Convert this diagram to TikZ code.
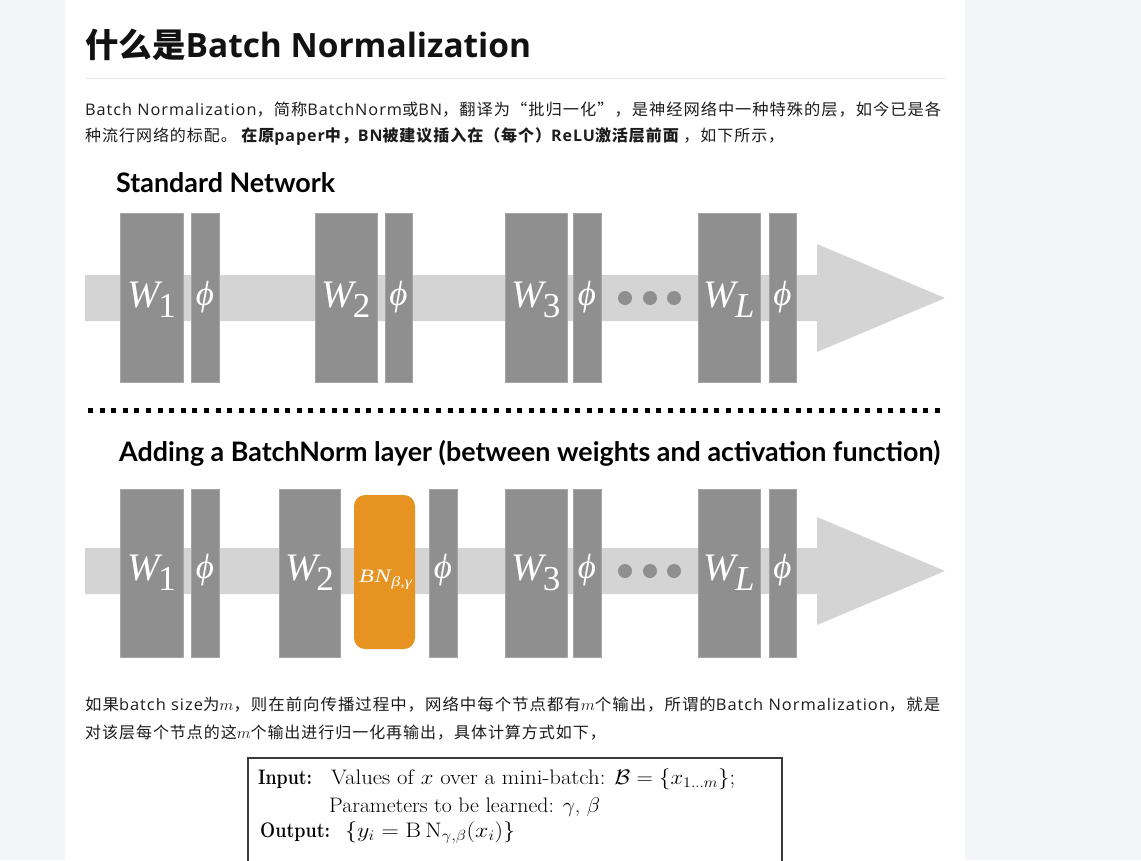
\documentclass[tikz,border=0pt]{standalone}
\usepackage{fix-cm}
\usepackage{fontspec}
\usepackage{graphicx}
\newfontfamily\cjk{Noto Sans CJK SC}[LetterSpace=6]
\newfontfamily\os{Open Sans}[LetterSpace=6]
\newfontfamily\cjkt{Noto Sans CJK SC}
\newfontfamily\ost{Open Sans}
\newfontfamily\lato{Lato}
\newfontfamily\tnr{Liberation Serif}
\newcommand\ltn[1]{{\os #1}}
\newcommand\bodyf{\cjk\fontsize{16}{16}\selectfont}
\newcommand\wlab[1]{{\tnr\itshape\fontsize{39}{39}\selectfont W}\kern-1pt\raisebox{-10pt}{\tnr\fontsize{35}{35}\selectfont #1}}
\newcommand\philab{{\tnr\itshape\fontsize{35}{35}\selectfont ϕ}}
\newcommand\bnlab{\resizebox{53pt}{\height}{{\tnr\itshape\fontsize{19}{19}\selectfont B\kern0.5pt N}\kern0.5pt\raisebox{-4.5pt}{\tnr\itshape\fontsize{14}{14}\selectfont β,γ}}}
\definecolor{pagebg}{HTML}{F4F5F9}
\definecolor{boxgray}{HTML}{8F8F8F}
\definecolor{boxedge}{HTML}{A4A4A4}
\definecolor{bandc}{HTML}{D4D4D4}
\definecolor{orangec}{HTML}{E69322}
\definecolor{textc}{HTML}{1C1C1C}
\definecolor{rulec}{HTML}{E6E7EB}
\definecolor{formc}{HTML}{3A3A3A}
\begin{document}
\begin{tikzpicture}[x=1pt,y=-1pt,
  box/.style={draw=boxedge, fill=boxgray, line width=0.8pt, inner sep=0pt},
  lab/.style={text=white, inner sep=0pt, anchor=base},
  txt/.style={anchor=base west, inner sep=0pt, text=textc},
  ftxt/.style={txt, text=black, font=\fontsize{21}{21}\selectfont},
  dotc/.style={circle, fill=boxgray, inner sep=0pt, minimum size=14pt}
]
\useasboundingbox (0,0) rectangle (1141,860);
\fill[pagebg] (0,0) rectangle (1141,860);
\fill[white] (65,0) rectangle (965,860);

% title and text
\node[txt, text=black!93] (title) at (85,57) {\resizebox{446pt}{!}{\cjkt\bfseries\fontsize{32}{32}\selectfont 什么是{\ost\bfseries Batch Normalization}}};
\coordinate (rl) at (85,78);
\coordinate (rr) at (945,78);
\draw[rulec, line width=1pt] (rl) -- (rr);
\node[txt] (p1a) at (85,115) {\resizebox{856pt}{\height}{\bodyf \ltn{Batch Normalization}，简称\ltn{BatchNorm}或\ltn{BN}，翻译为“批归一化”，是神经网络中一种特殊的层，如今已是各}};
\node[txt] (p1b) at (85,141.5) {\bodyf 种流行网络的标配。 {\bfseries 在原\ltn{paper}中，\ltn{BN}被建议插入在（每个）\ltn{ReLU}激活层前面} ，如下所示，};

% standard network
\node[txt, text=black] (t1) at (116,192) {\resizebox{219pt}{!}{\lato\bfseries\fontsize{25}{25}\selectfont Standard Network}};
\fill[bandc] (85,275) -- (817,275) -- (817,244) -- (945,298) -- (817,352) -- (817,321) -- (85,321) -- cycle;
\node[box, minimum width=63pt, minimum height=169pt] (tw1) at (151.5,297.5) {};
\node[box, minimum width=28pt, minimum height=169pt] (tp1) at (205,297.5) {};
\node[box, minimum width=62pt, minimum height=169pt] (tw2) at (346,297.5) {};
\node[box, minimum width=27pt, minimum height=169pt] (tp2) at (398.5,297.5) {};
\node[box, minimum width=62pt, minimum height=169pt] (tw3) at (536,297.5) {};
\node[box, minimum width=28pt, minimum height=169pt] (tp3) at (587,297.5) {};
\node[box, minimum width=62pt, minimum height=169pt] (twL) at (729,297.5) {};
\node[box, minimum width=27pt, minimum height=169pt] (tpL) at (782.5,297.5) {};
\node[lab] (tw1l) at (151.5,307) {\wlab{1}};
\node[lab] (tp1l) at (205,305) {\philab};
\node[lab] (tw2l) at (346,307) {\wlab{2}};
\node[lab] (tp2l) at (398.5,305) {\philab};
\node[lab] (tw3l) at (536,307) {\wlab{3}};
\node[lab] (tp3l) at (587,305) {\philab};
\node[lab] (twLl) at (729,307) {\wlab{\itshape L}};
\node[lab] (tpLl) at (782.5,305) {\philab};
\node[dotc] (td1) at (625,298) {};
\node[dotc] (td2) at (650,298) {};
\node[dotc] (td3) at (674,298) {};

% separator
\draw[black, line width=5pt, dash pattern=on 5pt off 6.6pt] (88,410) -- (940,410);

% batchnorm network
\node[txt, text=black] (t2) at (119,461) {\resizebox{821pt}{!}{\lato\bfseries\fontsize{25}{25}\selectfont Adding a BatchNorm layer (between weights and activation function)}};
\fill[bandc] (85,548) -- (817,548) -- (817,517) -- (945,571) -- (817,625) -- (817,594) -- (85,594) -- cycle;
\node[box, minimum width=63pt, minimum height=168pt] (bw1) at (151.5,573) {};
\node[box, minimum width=28pt, minimum height=168pt] (bp1) at (205,573) {};
\node[box, minimum width=61pt, minimum height=168pt] (bw2) at (309.5,573) {};
\node[fill=orangec, rounded corners=11pt, inner sep=0pt, minimum width=61pt, minimum height=154pt] (bn) at (384.5,572) {};
\node[box, minimum width=28pt, minimum height=168pt] (bp2) at (443,573) {};
\node[box, minimum width=62pt, minimum height=168pt] (bw3) at (536,573) {};
\node[box, minimum width=28pt, minimum height=168pt] (bp3) at (587,573) {};
\node[box, minimum width=62pt, minimum height=168pt] (bwL) at (729,573) {};
\node[box, minimum width=27pt, minimum height=168pt] (bpL) at (782.5,573) {};
\node[lab] (bw1l) at (151.5,580) {\wlab{1}};
\node[lab] (bp1l) at (205,578) {\philab};
\node[lab] (bw2l) at (309.5,580) {\wlab{2}};
\node[lab] (bnl) at (385.5,582) {\bnlab};
\node[lab] (bp2l) at (443,578) {\philab};
\node[lab] (bw3l) at (536,580) {\wlab{3}};
\node[lab] (bp3l) at (587,578) {\philab};
\node[lab] (bwLl) at (729,580) {\wlab{\itshape L}};
\node[lab] (bpLl) at (782.5,578) {\philab};
\node[dotc] (bd1) at (625,571) {};
\node[dotc] (bd2) at (650,571) {};
\node[dotc] (bd3) at (674,571) {};

% second paragraph
\node[txt] (p2a) at (85,710) {\resizebox{855pt}{\height}{\bodyf 如果\ltn{batch size}为$m$，则在前向传播过程中，网络中每个节点都有$m$个输出，所谓的\ltn{Batch Normalization}，就是}};
\node[txt] (p2b) at (85,738) {\bodyf 对该层每个节点的这$m$个输出进行归一化再输出，具体计算方式如下，};

% algorithm box
\draw[formc, line width=1.1pt] (248,758) rectangle (782,890);
\node[ftxt] (inp) at (258,784) {\resizebox{54pt}{\height}{\textbf{Input:}}};
\node[ftxt] (vals) at (331,784) {\resizebox{404pt}{\height}{Values of $x$ over a mini-batch: $\mathcal{B}=\{x_{1\ldots m}\}$;}};
\node[ftxt] (pars) at (329,812) {\resizebox{271pt}{\height}{Parameters to be learned: $\gamma$, $\beta$}};
\node[ftxt] (outp) at (260,837) {\resizebox{70pt}{\height}{\textbf{Output:}}};
\node[ftxt] (outf) at (345,837) {\resizebox{170pt}{\height}{$\{y_i=\mathrm{B\,N}_{\gamma,\beta}(x_i)\}$}};
\end{tikzpicture}
\end{document}
